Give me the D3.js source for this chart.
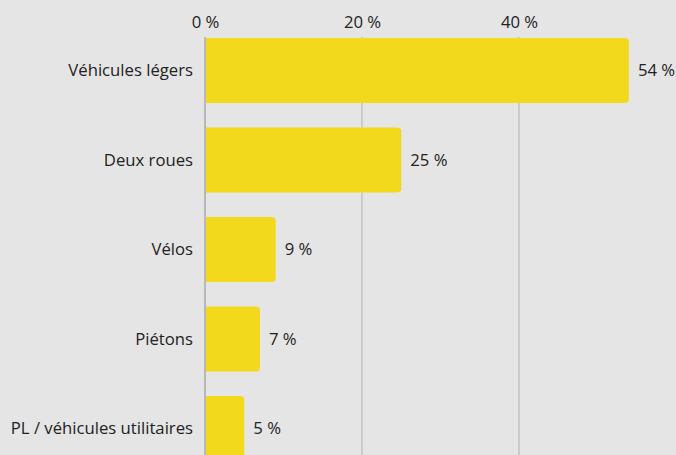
<!DOCTYPE html>
<html>
<head>
<meta charset="utf-8">
<script src="https://cdn.jsdelivr.net/npm/d3@7"></script>
<style>
  body { margin: 0; background: #e5e5e5; }
  svg { display: block; font-family: "Open Sans", sans-serif; }
</style>
</head>
<body>
<svg id="vis"></svg>
<script>
// data
const categories = ["Véhicules légers", "Deux roues", "Vélos", "Piétons", "PL / véhicules utilitaires"];
const values = [54, 25, 9, 7, 5];
const tickValues = [0, 20, 40];

let config = { svg: {}, margin: {}, plot: {} };

config.svg.width = 676;
config.svg.height = 455;

config.margin.top = 38;
config.margin.left = 205;

config.plot.x = config.margin.left;
config.plot.y = config.margin.top;
config.plot.width = 157 * 3;        // 0..60 %
config.plot.height = 89.5 * 4 + 65;

const fontSize = "16.7px";

const svg = d3.select("svg#vis")
  .attr("width", config.svg.width)
  .attr("height", config.svg.height);

svg.append("rect")
  .attr("width", config.svg.width)
  .attr("height", config.svg.height)
  .attr("fill", "#e5e5e5");

let scale = {};
scale.x = d3.scaleLinear().domain([0, 60]).range([0, config.plot.width]);
scale.y = d3.scaleBand()
  .domain(categories)
  .range([0, config.plot.height])
  .paddingInner(24.5 / 89.5)
  .paddingOuter(0);

let plot = svg.append("g")
  .attr("transform", translate(config.plot.x, config.plot.y));

// gridlines
plot.append("g")
  .selectAll("line")
  .data(tickValues.filter(d => d > 0))
  .enter()
  .append("line")
  .attr("x1", d => scale.x(d))
  .attr("x2", d => scale.x(d))
  .attr("y1", -1)
  .attr("y2", config.svg.height)
  .attr("stroke", "#c2c2c2")
  .attr("stroke-width", 1.5);

// tick labels
let axis = d3.axisTop(scale.x)
  .tickValues(tickValues)
  .tickFormat(d => d + " %")
  .tickSize(0)
  .tickPadding(10);

let gx = plot.append("g").call(axis);
gx.select(".domain").remove();
gx.selectAll("text")
  .attr("font-family", "'Open Sans', sans-serif")
  .attr("font-size", fontSize)
  .attr("fill", "#222");

// zero line
plot.append("line")
  .attr("x1", scale.x(0))
  .attr("x2", scale.x(0))
  .attr("y1", -1)
  .attr("y2", config.svg.height)
  .attr("stroke", "#8a8a8a")
  .attr("stroke-width", 1);

const r = 4;
function barPath(w, h) {
  return "M0,0H" + (w - r) + "Q" + w + ",0 " + w + "," + r +
    "V" + (h - r) + "Q" + w + "," + h + " " + (w - r) + "," + h + "H0Z";
}

let bars = plot.selectAll("g.bar")
  .data(categories.map((c, i) => ({ name: c, value: values[i] })))
  .enter()
  .append("g")
  .attr("class", "bar")
  .attr("transform", d => translate(1, scale.y(d.name)));

bars.append("path")
  .attr("d", d => barPath(scale.x(d.value) - 1, scale.y.bandwidth()))
  .attr("fill", "#f2d91c");

bars.append("text")
  .attr("x", d => scale.x(d.value) + 8)
  .attr("y", scale.y.bandwidth() / 2)
  .attr("dy", "0.35em")
  .attr("font-size", fontSize)
  .attr("fill", "#222")
  .text(d => d.value + " %");

plot.selectAll("text.cat")
  .data(categories)
  .enter()
  .append("text")
  .attr("class", "cat")
  .attr("x", -12)
  .attr("y", d => scale.y(d) + scale.y.bandwidth() / 2)
  .attr("dy", "0.35em")
  .attr("text-anchor", "end")
  .attr("font-size", fontSize)
  .attr("fill", "#222")
  .text(d => d);

function translate(x, y) {
  return "translate(" + x + "," + y + ")";
}
</script>
</body>
</html>
